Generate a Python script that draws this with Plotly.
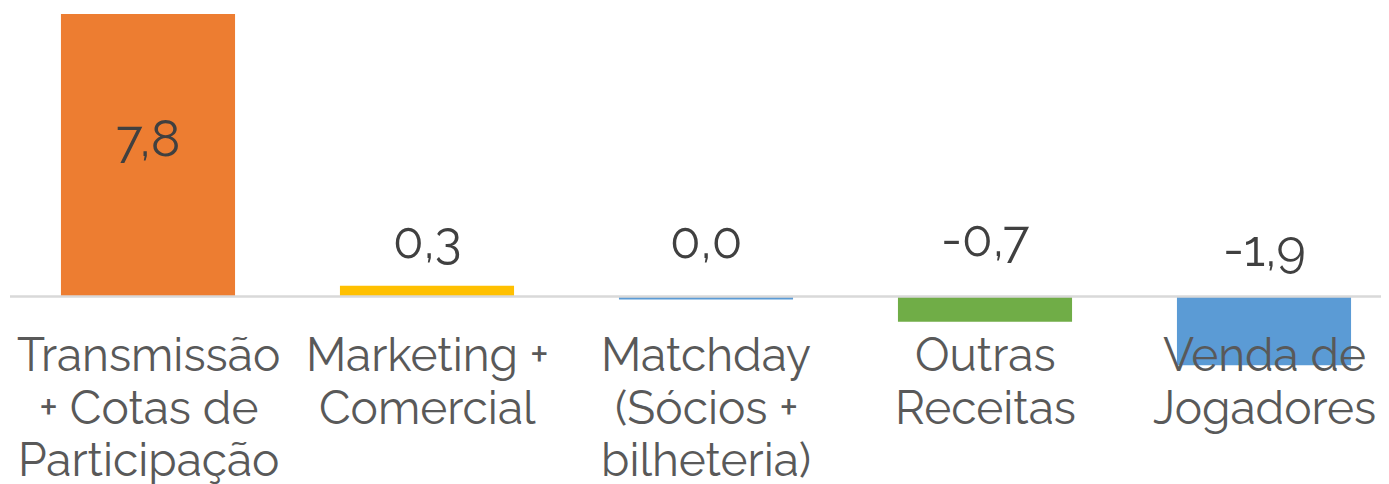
import plotly.graph_objects as go

categories = [["Transmissão", "+ Cotas de", "Participação"], ["Marketing +", "Comercial"],
              ["Matchday", "(Sócios +", "bilheteria)"], ["Outras", "Receitas"], ["Venda de", "Jogadores"]]
values = [7.8, 0.3, -0.08, -0.7, -1.9]
value_labels = ["7,8", "0,3", "0,0", "-0,7", "-1,9"]
colors = ["#ED7D31", "#FFC000", "#5B9BD5", "#70AD47", "#5B9BD5"]

FONT = "Raleway, Lato, sans-serif"
x = list(range(len(categories)))

fig = go.Figure()
fig.add_trace(go.Bar(x=x, y=values, marker=dict(color=colors, line=dict(width=0)),
                     width=0.624, hoverinfo="skip"))

# baseline
fig.add_shape(type="line", x0=-0.4946, x1=4.6, y0=0, y1=0, xref="x", yref="y",
              line=dict(color="#D9D9D9", width=2.5), layer="above")

# value labels (pixel offsets are styling)
label_shift = [17, 45.6, 56.5, 58, 48]
for i, (v, t) in enumerate(zip(values, value_labels)):
    ybase = v / 2 if i == 0 else max(v, 0)
    fig.add_annotation(x=i, y=ybase, text=t, showarrow=False, yshift=label_shift[i],
                       yanchor="middle",
                       font=dict(family=FONT, size=50, color="#404040"))

# category labels, one annotation per line
LINE_H = 52.5
for i, lines in enumerate(categories):
    for j, ln in enumerate(lines):
        fig.add_annotation(x=i, y=0, text=ln, showarrow=False, yanchor="middle",
                           yshift=-(58.5 + LINE_H * j),
                           font=dict(family=FONT, size=46, color="#595959"))

fig.update_layout(
    width=1389, height=484, margin=dict(l=0, r=0, t=0, b=0),
    paper_bgcolor="white", plot_bgcolor="white", showlegend=False,
    xaxis=dict(range=[-0.5018, 4.4767], visible=False),
    yaxis=dict(range=[-5.398, 7.966], visible=False),
)
fig.write_html("out.html")
